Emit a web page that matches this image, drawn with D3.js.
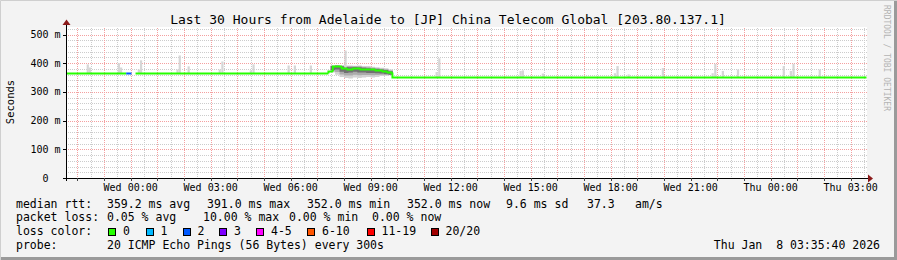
<!DOCTYPE html>
<html><head><meta charset="utf-8">
<script src="https://cdn.jsdelivr.net/npm/d3@7"></script>
<style>html,body{margin:0;padding:0;background:#f3f3f3}svg{display:block}text{white-space:pre}</style>
</head><body><svg id="c" width="897" height="260"></svg>
<script>
// ---------- data ----------
const titleText = "Last 30 Hours from Adelaide to [JP] China Telecom Global [203.80.137.1]";
const startTime = "2026-01-06T21:35:40Z";
const endTime = "2026-01-08T03:35:40Z";
const yTicks = [0, 100, 200, 300, 400, 500];
const yTickLabels = ["0", "100 m", "200 m", "300 m", "400 m", "500 m"];

// median rtt (ms) as a step series; null = no data
const medTimes = ["2026-01-06T21:35:40Z","2026-01-06T23:50Z","2026-01-07T00:02Z","2026-01-07T00:11Z","2026-01-07T07:25Z","2026-01-07T07:35Z","2026-01-07T07:55Z","2026-01-07T08:08Z","2026-01-07T08:21Z","2026-01-07T08:37Z","2026-01-07T09:00Z","2026-01-07T09:11Z","2026-01-07T09:27Z","2026-01-07T09:38Z","2026-01-07T09:49Z","2026-01-08T03:35:40Z"];
const medValues = [366, 366, null, 366, 374, 390, 384, 381, 385, 381, 379, 377, 374, 369, 352, 352];
const medLoss   = [0, 2, null, 0, 0, 0, 0, 0, 0, 0, 0, 0, 0, 0, 0, 0];

// isolated smoke spikes (time, top ms)
const spikeTimes = ["2026-01-06T22:21Z","2026-01-06T22:26Z","2026-01-06T23:31Z","2026-01-06T23:36Z","2026-01-07T00:16Z","2026-01-07T00:21Z","2026-01-07T01:43Z","2026-01-07T01:48Z","2026-01-07T02:08Z","2026-01-07T03:18Z","2026-01-07T03:24Z","2026-01-07T04:28Z","2026-01-07T04:34Z","2026-01-07T05:53Z","2026-01-07T06:07Z","2026-01-07T06:43Z","2026-01-07T08:01Z","2026-01-07T11:26Z","2026-01-07T11:32Z","2026-01-07T14:35Z","2026-01-07T14:40Z","2026-01-07T15:25Z","2026-01-07T18:07Z","2026-01-07T18:13Z","2026-01-07T18:38Z","2026-01-07T19:55Z","2026-01-07T21:47Z","2026-01-07T21:53Z","2026-01-07T22:10Z","2026-01-07T22:44Z","2026-01-08T00:27Z","2026-01-08T00:43Z","2026-01-08T00:49Z","2026-01-08T01:48Z"];
const spikeTops = [396, 385, 400, 385, 378, 410, 378, 427, 389, 378, 406, 375, 396, 392, 392, 392, 444, 369, 417, 373, 375, 364, 365, 390, 361, 383, 365, 398, 373, 378, 390, 373, 398, 378];

// dense smoke band 07:30 - 09:50
const bandTimes = ["2026-01-07T07:30Z","2026-01-07T07:40Z","2026-01-07T07:50Z","2026-01-07T08:00Z","2026-01-07T08:10Z","2026-01-07T08:20Z","2026-01-07T08:30Z","2026-01-07T08:40Z","2026-01-07T08:50Z","2026-01-07T09:00Z","2026-01-07T09:10Z","2026-01-07T09:20Z","2026-01-07T09:30Z","2026-01-07T09:40Z","2026-01-07T09:50Z"];
const outerLo = [368, 360, 352, 348, 347, 350, 348, 350, 352, 350, 352, 355, 356, 358, 358];
const outerHi = [392, 394, 393, 392, 392, 391, 392, 390, 390, 388, 386, 384, 382, 378, 378];
const innerLo = [376, 378, 370, 366, 368, 370, 368, 368, 366, 366, 365, 364, 362, 360, 360];
const innerHi = [390, 391, 389, 387, 386, 387, 386, 384, 382, 381, 380, 378, 376, 372, 372];

const lossLabels = ["0", "1", "2", "3", "4-5", "6-10", "11-19", "20/20"];
const lossColors = ["#26ff00", "#00b8ff", "#0059ff", "#7e00ff", "#ff00ff", "#ff5500", "#ff0000", "#a10000"];

const legendRtt = ["359.2 ms avg", "391.0 ms max", "352.0 ms min", "352.0 ms now", "9.6 ms sd", "37.3", "am/s"];
const legendLoss = ["0.05 % avg", "10.00 % max", "0.00 % min", "0.00 % now"];
const probeText = "20 ICMP Echo Pings (56 Bytes) every 300s";
const stampText = "Thu Jan  8 03:35:40 2026";

// ---------- drawing ----------
const svg = d3.select("#c");
const FONT = "'DejaVu Sans Mono', monospace";
const W = 897, H = 260;
const px0 = 66.5, px1 = 866.5, pyTop = 27, pyBot = 178;

const x = d3.scaleUtc().domain([new Date(startTime), new Date(endTime)]).range([px0, px1]);
const y = d3.scaleLinear().domain([0, 500]).range([pyBot, 34.5]);

// dotted-line patterns
const defs = svg.append("defs");
function pat(id, w, h, color) {
  const p = defs.append("pattern").attr("id", id).attr("patternUnits", "userSpaceOnUse")
    .attr("x", 0).attr("y", 0).attr("width", w).attr("height", h);
  p.append("rect").attr("width", 1).attr("height", 1).attr("fill", color);
}
pat("hMinor", 2, 1, "#cccccc");
pat("vMinor", 1, 2, "#cccccc");
pat("hMajor", 2, 1, "#f4a0a0");
pat("vMajor", 1, 2, "#f4a0a0");

// canvas + frame
svg.append("rect").attr("width", W).attr("height", H).attr("fill", "#f3f3f3");
svg.append("path").attr("d", `M0.5,${H}V0.5H${W}`).attr("stroke", "#cfcfcf").attr("fill", "none");
svg.append("path").attr("d", `M1,${H-1.5}H${W-1.5}V1`).attr("stroke", "#9a9a9a").attr("stroke-width", 3).attr("fill", "none");

// plot background
svg.append("rect").attr("x", 67).attr("y", pyTop).attr("width", 800).attr("height", pyBot - pyTop).attr("fill", "#fff");

const grid = svg.append("g").attr("shape-rendering", "crispEdges");
const minorY = d3.range(0, 521, 20).filter(v => v % 100 !== 0);
grid.selectAll(".hy").data(minorY).join("rect").attr("class", "hy")
  .attr("x", 67).attr("width", 800).attr("y", d => Math.round(y(d))).attr("height", 1)
  .attr("fill", "url(#hMinor)");
const minorX = d3.utcMinute.every(30).range(new Date(startTime), new Date(endTime)).filter(d => d.getUTCMinutes() === 30);
grid.selectAll(".vx").data(minorX).join("rect").attr("class", "vx")
  .attr("x", d => Math.round(x(d))).attr("width", 1).attr("y", pyTop).attr("height", pyBot - pyTop)
  .attr("fill", "url(#vMinor)");
const majorX = d3.utcHour.every(1).range(new Date(startTime), new Date(endTime));
grid.selectAll(".mx").data(majorX).join("rect").attr("class", "mx")
  .attr("x", d => Math.round(x(d))).attr("width", 1).attr("y", pyTop).attr("height", pyBot - pyTop)
  .attr("fill", "url(#vMajor)");
grid.selectAll(".my").data(yTicks.slice(1)).join("rect").attr("class", "my")
  .attr("x", 67).attr("width", 800).attr("y", d => Math.round(y(d))).attr("height", 1)
  .attr("fill", "url(#hMajor)");

// smoke
const sampleW = x(new Date("2026-01-07T00:05Z")) - x(new Date("2026-01-07T00:00Z"));
function medianAt(tm) {
  let v = 366;
  for (let i = 0; i < medTimes.length; i++) {
    if (new Date(medTimes[i]) <= tm && medValues[i] != null) v = medValues[i];
  }
  return v;
}
const band = bandTimes.map((tm, i) => ({t: new Date(tm), oLo: outerLo[i], oHi: outerHi[i], iLo: innerLo[i], iHi: innerHi[i]}));
svg.append("path").datum(band).attr("fill", "#d2d2d2")
  .attr("d", d3.area().curve(d3.curveStepAfter).x(d => x(d.t)).y0(d => y(d.oLo)).y1(d => y(d.oHi)));
svg.append("path").datum(band).attr("fill", "#ababab")
  .attr("d", d3.area().curve(d3.curveStepAfter).x(d => x(d.t)).y0(d => y((d.iLo + d.oLo) / 2)).y1(d => y((d.iHi + d.oHi) / 2)));
svg.append("path").datum(band).attr("fill", "#707070")
  .attr("d", d3.area().curve(d3.curveStepAfter).x(d => x(d.t)).y0(d => y(d.iLo)).y1(d => y(d.iHi)));

const spikes = spikeTimes.map((tm, i) => ({t: new Date(tm), top: spikeTops[i]}));
svg.selectAll(".spk").data(spikes).join("rect").attr("class", "spk")
  .attr("x", d => x(d.t)).attr("width", sampleW)
  .attr("y", d => y(d.top)).attr("height", d => Math.max(0, y(medianAt(d.t)) - y(d.top)))
  .attr("fill", "#d6d6d6");

// median line segments coloured by loss
const segs = [];
for (let i = 0; i < medTimes.length - 1; i++) {
  if (medValues[i] == null) continue;
  const pts = [];
  if (i > 0 && medValues[i - 1] != null) pts.push([new Date(medTimes[i]), medValues[i - 1]]);
  pts.push([new Date(medTimes[i]), medValues[i]]);
  pts.push([new Date(medTimes[i + 1]), medValues[i]]);
  segs.push({pts, loss: medLoss[i]});
}
const line = d3.line().x(d => x(d[0])).y(d => Math.round(y(d[1])) + 0.5);
svg.selectAll(".med").data(segs).join("path").attr("class", "med")
  .attr("d", d => line(d.pts)).attr("fill", "none")
  .attr("stroke", d => lossColors[d.loss]).attr("stroke-width", 2);

// axes
const ax = svg.append("g").attr("shape-rendering", "crispEdges");
ax.append("line").attr("x1", 63).attr("x2", 869).attr("y1", pyBot + 0.5).attr("y2", pyBot + 0.5).attr("stroke", "#000");
ax.append("line").attr("x1", px0).attr("x2", px0).attr("y1", pyBot + 3).attr("y2", 24).attr("stroke", "#000");
svg.append("path").attr("d", `M868,174.5L873,178.5L868,182.5Z`).attr("fill", "#8b1a1a");
svg.append("path").attr("d", `M62.5,25L66.5,19.5L70.5,25Z`).attr("fill", "#8b1a1a");

// x ticks + labels
ax.selectAll(".xt").data(majorX).join("line").attr("class", "xt")
  .attr("x1", d => Math.round(x(d)) + 0.5).attr("x2", d => Math.round(x(d)) + 0.5)
  .attr("y1", pyBot).attr("y2", pyBot + 3).attr("stroke", "#444");
const labelTicks = d3.utcHour.every(3).range(new Date(startTime), new Date(endTime));
const fmt = d3.utcFormat("%a %H:%M");
svg.selectAll(".xl").data(labelTicks).join("text").attr("class", "xl")
  .attr("x", d => x(d)).attr("y", 191).attr("text-anchor", "middle")
  .attr("font-family", FONT).attr("font-size", 10).attr("fill", "#000").text(d => fmt(d));

// y ticks + labels
ax.selectAll(".yt").data(yTicks).join("line").attr("class", "yt")
  .attr("x1", 63).attr("x2", px0).attr("y1", d => Math.round(y(d)) + 0.5).attr("y2", d => Math.round(y(d)) + 0.5)
  .attr("stroke", "#000");
svg.selectAll(".yl").data(yTicks).join("text").attr("class", "yl")
  .attr("x", (d, i) => i === 0 ? 48.5 : 60.5).attr("y", d => y(d) + 3.5).attr("text-anchor", "end")
  .attr("font-family", FONT).attr("font-size", 10).attr("fill", "#000")
  .text((d, i) => yTickLabels[i]);

// axis title
svg.append("text").attr("transform", "translate(13.5,102) rotate(-90)").attr("text-anchor", "middle")
  .attr("font-family", FONT).attr("font-size", 10.5).attr("fill", "#000").text("Seconds");

// chart title
svg.append("text").attr("x", 448).attr("y", 24).attr("text-anchor", "middle")
  .attr("font-family", FONT).attr("font-size", 13).attr("fill", "#000").text(titleText);

// watermark
svg.append("text").attr("transform", "translate(884,5) rotate(90)")
  .attr("font-family", FONT).attr("font-size", 8).attr("fill", "#b4b4b4").text("RRDTOOL / TOBI OETIKER");

// legend
const LF = 11.5;
const rows = [207.5, 221.4, 235.3, 249.2];
function txt(xp, yp, s, anchor) {
  svg.append("text").attr("x", xp).attr("y", yp).attr("text-anchor", anchor || "start")
    .attr("font-family", FONT).attr("font-size", LF).attr("fill", "#000").text(s);
}
txt(16, rows[0], "median rtt:");
const rttX = [107, 207, 307, 407, 506, 587, 635];
legendRtt.forEach((s, i) => txt(rttX[i], rows[0], s));
txt(16, rows[1], "packet loss:");
const lossX = [107, 203, 289, 372];
legendLoss.forEach((s, i) => txt(lossX[i], rows[1], s));
txt(16, rows[2], "loss color:");
const boxX = [108, 145.5, 182.5, 219, 256, 307, 366.5, 430.5];
lossLabels.forEach((s, i) => {
  svg.append("rect").attr("x", boxX[i] + 0.5).attr("y", 228.5).attr("width", 7).attr("height", 7)
    .attr("fill", lossColors[i]).attr("stroke", "#000").attr("shape-rendering", "crispEdges");
  txt(boxX[i] + 15, rows[2], s);
});
txt(16, rows[3], "probe:");
txt(107, rows[3], probeText);
txt(880, rows[3], stampText, "end");
</script></body></html>
